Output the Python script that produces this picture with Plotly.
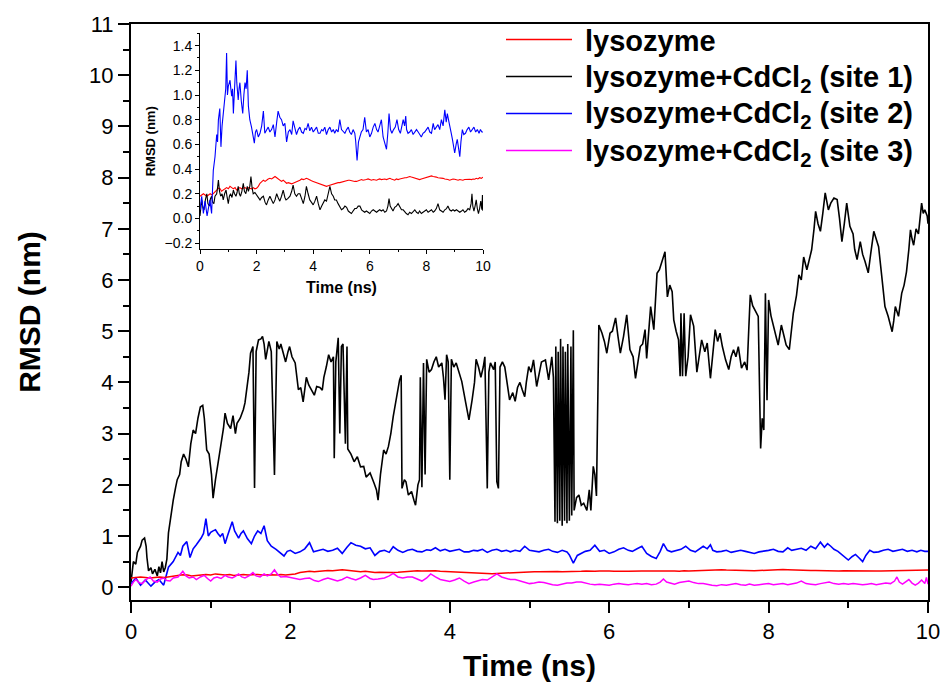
import plotly.graph_objects as go

# ---------------- data ----------------
series_names = ["lysozyme", "lysozyme+CdCl<sub>2</sub> (site 1)",
                "lysozyme+CdCl<sub>2</sub> (site 2)", "lysozyme+CdCl<sub>2</sub> (site 3)"]

lys_pts = [(0,0.18),(0.06,0.19),(0.12,0.2),(0.18,0.19),(0.24,0.18),(0.3,0.19),(0.36,0.2),(0.42,0.19),(0.47,0.2),(0.53,0.22),(0.59,0.23),(0.65,0.245),(0.71,0.24),(0.76,0.22),(0.82,0.23),(0.88,0.24),(0.94,0.25),(1.0,0.24),(1.06,0.26),(1.12,0.25),(1.18,0.24),(1.24,0.25),(1.29,0.23),(1.35,0.24),(1.41,0.25),(1.47,0.24),(1.53,0.245),(1.59,0.25),(1.65,0.24),(1.71,0.25),(1.76,0.245),(1.82,0.24),(1.88,0.25),(1.94,0.24),(2.0,0.245),(2.06,0.26),(2.12,0.285),(2.18,0.3),(2.24,0.31),(2.3,0.3),(2.35,0.31),(2.41,0.32),(2.47,0.325),(2.53,0.32),(2.59,0.33),(2.65,0.34),(2.71,0.33),(2.76,0.32),(2.82,0.31),(2.88,0.3),(2.94,0.31),(3.0,0.295),(3.06,0.285),(3.12,0.29),(3.18,0.285),(3.24,0.28),(3.29,0.285),(3.35,0.29),(3.41,0.3),(3.47,0.305),(3.53,0.31),(3.59,0.32),(3.65,0.315),(3.71,0.32),(3.76,0.325),(3.82,0.32),(3.88,0.31),(3.94,0.305),(4.0,0.3),(4.06,0.295),(4.12,0.29),(4.18,0.285),(4.24,0.285),(4.3,0.28),(4.35,0.27),(4.41,0.265),(4.47,0.26),(4.53,0.265),(4.59,0.27),(4.65,0.275),(4.71,0.28),(4.76,0.28),(4.82,0.285),(4.88,0.29),(4.94,0.29),(5.0,0.295),(5.06,0.3),(5.12,0.3),(5.18,0.305),(5.24,0.31),(5.29,0.31),(5.35,0.305),(5.41,0.3),(5.47,0.3),(5.53,0.3),(5.59,0.305),(5.65,0.31),(5.71,0.315),(5.76,0.31),(5.82,0.31),(5.88,0.315),(5.94,0.32),(6.0,0.318),(6.06,0.31),(6.12,0.315),(6.18,0.31),(6.24,0.31),(6.29,0.315),(6.35,0.32),(6.41,0.315),(6.47,0.318),(6.53,0.32),(6.59,0.315),(6.65,0.32),(6.71,0.325),(6.76,0.32),(6.82,0.315),(6.88,0.31),(6.94,0.32),(7.0,0.315),(7.06,0.32),(7.12,0.325),(7.18,0.325),(7.24,0.33),(7.29,0.33),(7.35,0.335),(7.41,0.34),(7.47,0.335),(7.53,0.33),(7.59,0.325),(7.65,0.325),(7.71,0.32),(7.76,0.315),(7.82,0.32),(7.88,0.325),(7.94,0.33),(8.0,0.335),(8.06,0.34),(8.12,0.34),(8.18,0.345),(8.24,0.34),(8.29,0.335),(8.35,0.335),(8.41,0.33),(8.47,0.33),(8.53,0.325),(8.59,0.325),(8.65,0.32),(8.71,0.32),(8.76,0.315),(8.82,0.31),(8.88,0.315),(8.94,0.32),(9.0,0.318),(9.06,0.315),(9.12,0.31),(9.18,0.315),(9.24,0.31),(9.29,0.31),(9.35,0.315),(9.41,0.318),(9.47,0.32),(9.53,0.318),(9.59,0.315),(9.65,0.32),(9.71,0.318),(9.76,0.325),(9.82,0.32),(9.88,0.33),(9.94,0.325),(10.0,0.335)]

site1_pts = [(0,0.1),(0.03,0.5),(0.06,0.45),(0.08,0.68),(0.12,0.8),(0.14,0.92),(0.17,0.96),(0.19,0.8),(0.2,0.58),(0.22,0.32),(0.25,0.38),(0.27,0.26),(0.3,0.35),(0.33,0.22),(0.35,0.4),(0.37,0.28),(0.39,0.5),(0.41,0.3),(0.43,0.38),(0.45,0.55),(0.47,1.06),(0.5,1.4),(0.53,1.7),(0.56,1.95),(0.58,2.1),(0.61,2.2),(0.63,2.45),(0.66,2.6),(0.69,2.5),(0.72,2.35),(0.75,2.8),(0.78,3.07),(0.81,3.0),(0.84,3.3),(0.87,3.52),(0.9,3.55),(0.92,3.3),(0.95,2.68),(0.98,2.6),(1.01,2.2),(1.03,1.74),(1.06,2.1),(1.1,2.49),(1.13,2.8),(1.16,3.1),(1.18,3.4),(1.21,3.2),(1.25,3.1),(1.28,3.35),(1.31,3.0),(1.33,3.2),(1.37,3.3),(1.41,3.47),(1.43,3.6),(1.45,3.85),(1.48,4.2),(1.5,4.57),(1.53,4.7),(1.55,1.94),(1.57,4.6),(1.6,4.83),(1.63,4.85),(1.65,4.9),(1.67,4.75),(1.69,4.45),(1.71,4.6),(1.73,4.8),(1.76,4.6),(1.8,2.19),(1.83,4.8),(1.86,4.65),(1.88,4.75),(1.91,4.57),(1.94,4.4),(1.97,4.6),(1.99,4.7),(2.02,4.5),(2.06,4.38),(2.1,3.86),(2.13,3.9),(2.16,3.62),(2.2,4.1),(2.23,3.95),(2.26,3.86),(2.3,3.75),(2.33,3.92),(2.37,3.9),(2.4,3.85),(2.42,4.1),(2.45,4.3),(2.48,4.54),(2.51,4.4),(2.54,4.5),(2.55,2.52),(2.57,4.4),(2.6,4.87),(2.62,3.0),(2.64,4.7),(2.66,4.75),(2.69,2.8),(2.71,4.7),(2.72,2.7),(2.76,2.6),(2.8,2.45),(2.84,2.55),(2.88,2.35),(2.92,2.36),(2.95,2.15),(3.0,2.23),(3.05,2.03),(3.08,1.9),(3.1,1.7),(3.13,2.2),(3.17,2.68),(3.2,2.6),(3.23,2.75),(3.26,3.0),(3.29,3.33),(3.32,3.6),(3.35,3.92),(3.37,4.05),(3.39,4.14),(3.4,1.93),(3.43,2.1),(3.45,2.06),(3.48,1.8),(3.52,1.87),(3.55,1.7),(3.57,1.6),(3.6,2.0),(3.62,2.1),(3.63,4.1),(3.65,1.95),(3.67,4.38),(3.69,2.2),(3.71,4.45),(3.74,4.2),(3.77,4.25),(3.8,4.4),(3.83,4.5),(3.86,4.3),(3.9,4.38),(3.92,4.1),(3.94,3.66),(3.96,4.54),(3.98,4.4),(4.0,2.1),(4.02,4.45),(4.05,4.3),(4.08,4.38),(4.12,4.2),(4.15,4.02),(4.2,3.6),(4.24,3.27),(4.28,3.66),(4.31,4.0),(4.33,4.45),(4.36,4.3),(4.39,4.1),(4.42,4.3),(4.44,4.5),(4.47,1.93),(4.49,4.2),(4.51,4.38),(4.55,4.25),(4.57,4.4),(4.59,2.06),(4.61,1.93),(4.63,4.3),(4.66,4.4),(4.69,4.3),(4.72,4.0),(4.75,3.66),(4.79,3.8),(4.82,3.63),(4.85,3.9),(4.88,4.0),(4.91,3.85),(4.94,3.72),(4.96,4.0),(4.99,4.31),(5.02,4.2),(5.05,4.44),(5.09,3.92),(5.12,4.2),(5.15,4.4),(5.2,4.44),(5.24,4.05),(5.28,4.5),(5.3,4.1),(5.32,1.28),(5.33,4.7),(5.35,1.25),(5.36,4.6),(5.38,1.3),(5.39,4.85),(5.41,1.2),(5.42,4.7),(5.44,1.3),(5.45,4.6),(5.47,1.25),(5.48,4.75),(5.5,1.3),(5.52,4.7),(5.53,1.4),(5.55,5.02),(5.56,1.5),(5.59,1.75),(5.62,1.8),(5.65,1.6),(5.68,1.64),(5.72,1.5),(5.75,1.9),(5.77,1.5),(5.8,2.36),(5.82,2.2),(5.84,1.78),(5.87,5.12),(5.91,4.96),(5.94,4.8),(5.97,4.57),(6.01,4.96),(6.04,5.0),(6.08,5.26),(6.11,4.9),(6.14,4.57),(6.18,4.9),(6.22,5.32),(6.26,4.64),(6.3,4.5),(6.33,4.08),(6.36,4.4),(6.39,4.7),(6.42,4.75),(6.45,5.03),(6.47,4.47),(6.5,5.0),(6.52,5.48),(6.56,5.03),(6.58,5.6),(6.6,6.13),(6.63,6.2),(6.66,6.36),(6.7,6.55),(6.73,5.67),(6.76,5.9),(6.79,5.77),(6.81,5.22),(6.84,5.0),(6.87,4.83),(6.89,4.12),(6.9,5.35),(6.92,4.12),(6.94,5.35),(6.96,4.12),(6.99,4.5),(7.02,5.32),(7.06,5.1),(7.1,4.2),(7.13,4.5),(7.16,4.83),(7.2,4.6),(7.23,4.77),(7.27,4.08),(7.3,4.6),(7.33,5.03),(7.36,4.8),(7.39,4.96),(7.42,4.7),(7.46,4.44),(7.5,4.25),(7.53,4.5),(7.56,4.64),(7.59,4.5),(7.62,4.7),(7.66,4.28),(7.7,4.4),(7.73,4.24),(7.75,5.0),(7.77,5.71),(7.8,5.5),(7.83,5.42),(7.87,5.29),(7.9,2.71),(7.92,3.3),(7.94,3.07),(7.96,5.74),(7.98,3.65),(8.0,5.61),(8.03,5.3),(8.06,5.1),(8.09,4.9),(8.12,4.73),(8.16,5.12),(8.19,4.9),(8.22,4.73),(8.26,4.64),(8.29,5.0),(8.31,5.35),(8.35,5.7),(8.38,6.1),(8.41,6.0),(8.44,6.45),(8.48,6.2),(8.51,6.4),(8.54,6.59),(8.57,7.0),(8.59,7.34),(8.62,7.1),(8.65,6.95),(8.68,7.3),(8.71,7.7),(8.75,7.37),(8.78,7.5),(8.82,7.6),(8.86,7.57),(8.89,7.2),(8.92,6.75),(8.95,7.1),(8.98,7.5),(9.02,7.05),(9.06,6.9),(9.08,6.6),(9.11,6.4),(9.15,6.75),(9.18,6.5),(9.21,6.36),(9.25,6.14),(9.28,6.5),(9.32,6.95),(9.35,6.8),(9.38,6.65),(9.42,6.07),(9.46,5.48),(9.5,5.29),(9.53,5.1),(9.55,4.99),(9.57,5.2),(9.59,5.48),(9.63,5.29),(9.67,5.74),(9.7,5.9),(9.73,6.16),(9.76,6.6),(9.78,6.98),(9.8,6.8),(9.82,6.68),(9.85,7.0),(9.88,6.9),(9.9,7.2),(9.92,7.5),(9.94,7.3),(9.96,7.37),(9.99,7.25),(10.0,7.1)]

site2_pts = [(0,0.07),(0.06,0.18),(0.12,0.04),(0.18,0.14),(0.25,0.02),(0.3,0.1),(0.35,0.15),(0.41,0.04),(0.47,0.39),(0.53,0.5),(0.59,0.68),(0.62,0.62),(0.65,0.8),(0.7,0.89),(0.74,0.58),(0.78,0.75),(0.82,0.83),(0.88,0.96),(0.91,1.05),(0.94,1.34),(0.97,1.0),(1.0,1.07),(1.03,1.1),(1.06,1.12),(1.09,1.05),(1.12,0.99),(1.15,1.05),(1.18,0.85),(1.21,1.0),(1.24,1.12),(1.27,1.28),(1.3,1.1),(1.35,0.96),(1.38,1.05),(1.41,1.1),(1.46,0.95),(1.51,0.85),(1.55,1.0),(1.59,1.1),(1.63,1.05),(1.67,1.2),(1.71,0.91),(1.76,0.8),(1.82,0.74),(1.87,0.68),(1.92,0.61),(1.96,0.7),(2.0,0.72),(2.06,0.66),(2.12,0.69),(2.18,0.75),(2.24,0.87),(2.29,0.69),(2.35,0.72),(2.41,0.74),(2.47,0.7),(2.53,0.72),(2.59,0.76),(2.65,0.66),(2.71,0.78),(2.76,0.87),(2.82,0.82),(2.88,0.8),(2.94,0.75),(3.0,0.77),(3.06,0.62),(3.12,0.7),(3.18,0.72),(3.24,0.68),(3.29,0.79),(3.35,0.72),(3.41,0.68),(3.47,0.72),(3.53,0.74),(3.59,0.7),(3.65,0.69),(3.71,0.73),(3.76,0.72),(3.82,0.77),(3.88,0.71),(3.94,0.74),(4.0,0.7),(4.06,0.72),(4.12,0.74),(4.18,0.69),(4.24,0.69),(4.3,0.72),(4.35,0.71),(4.41,0.74),(4.47,0.68),(4.53,0.72),(4.59,0.74),(4.65,0.7),(4.71,0.72),(4.76,0.69),(4.82,0.72),(4.88,0.7),(4.94,0.8),(5.0,0.72),(5.06,0.7),(5.12,0.69),(5.18,0.72),(5.24,0.74),(5.29,0.7),(5.35,0.68),(5.41,0.72),(5.47,0.69),(5.5,0.63),(5.55,0.47),(5.6,0.62),(5.65,0.66),(5.7,0.7),(5.76,0.72),(5.82,0.82),(5.88,0.7),(5.94,0.72),(6.0,0.66),(6.06,0.69),(6.12,0.74),(6.18,0.77),(6.24,0.72),(6.29,0.7),(6.35,0.75),(6.41,0.8),(6.47,0.66),(6.53,0.6),(6.59,0.56),(6.64,0.7),(6.68,0.85),(6.73,0.72),(6.78,0.69),(6.84,0.72),(6.9,0.74),(6.96,0.8),(7.02,0.72),(7.08,0.69),(7.13,0.74),(7.18,0.8),(7.23,0.75),(7.27,0.83),(7.3,0.72),(7.35,0.69),(7.41,0.7),(7.47,0.72),(7.53,0.68),(7.59,0.7),(7.65,0.72),(7.71,0.7),(7.76,0.68),(7.82,0.66),(7.88,0.69),(7.94,0.7),(8.0,0.72),(8.06,0.74),(8.12,0.7),(8.18,0.69),(8.24,0.77),(8.29,0.72),(8.35,0.74),(8.41,0.76),(8.47,0.72),(8.53,0.8),(8.59,0.75),(8.65,0.88),(8.7,0.78),(8.74,0.85),(8.78,0.8),(8.82,0.74),(8.87,0.7),(8.92,0.64),(8.96,0.58),(9.0,0.53),(9.05,0.6),(9.09,0.64),(9.13,0.58),(9.18,0.5),(9.22,0.62),(9.27,0.72),(9.32,0.68),(9.38,0.69),(9.44,0.72),(9.5,0.74),(9.56,0.7),(9.62,0.72),(9.68,0.74),(9.74,0.7),(9.8,0.72),(9.86,0.69),(9.91,0.72),(9.96,0.7),(10.0,0.7)]

site3_pts = [(0,0.02),(0.03,0.1),(0.06,0.15),(0.1,0.09),(0.14,0.07),(0.19,0.15),(0.24,0.2),(0.28,0.12),(0.33,0.1),(0.37,0.16),(0.41,0.18),(0.45,0.13),(0.49,0.12),(0.53,0.18),(0.59,0.2),(0.62,0.25),(0.65,0.31),(0.69,0.22),(0.73,0.18),(0.78,0.2),(0.82,0.15),(0.87,0.2),(0.92,0.23),(0.96,0.17),(1.0,0.12),(1.04,0.18),(1.08,0.2),(1.13,0.17),(1.18,0.23),(1.22,0.2),(1.27,0.18),(1.31,0.21),(1.35,0.26),(1.39,0.2),(1.43,0.18),(1.48,0.22),(1.53,0.285),(1.57,0.22),(1.62,0.2),(1.67,0.26),(1.71,0.22),(1.76,0.26),(1.8,0.34),(1.84,0.25),(1.88,0.2),(1.94,0.21),(2.0,0.19),(2.06,0.18),(2.12,0.15),(2.18,0.17),(2.24,0.18),(2.3,0.13),(2.35,0.11),(2.41,0.15),(2.47,0.18),(2.53,0.15),(2.59,0.12),(2.65,0.15),(2.71,0.2),(2.76,0.17),(2.82,0.14),(2.88,0.18),(2.94,0.23),(3.0,0.17),(3.04,0.15),(3.1,0.16),(3.18,0.18),(3.24,0.22),(3.29,0.27),(3.35,0.2),(3.41,0.18),(3.47,0.2),(3.53,0.2),(3.59,0.16),(3.65,0.12),(3.71,0.18),(3.76,0.26),(3.82,0.2),(3.88,0.15),(3.94,0.13),(4.0,0.11),(4.06,0.14),(4.12,0.18),(4.18,0.12),(4.24,0.07),(4.3,0.1),(4.35,0.12),(4.41,0.15),(4.47,0.14),(4.53,0.2),(4.59,0.26),(4.65,0.2),(4.71,0.18),(4.76,0.15),(4.82,0.15),(4.88,0.12),(4.94,0.09),(5.0,0.07),(5.06,0.08),(5.12,0.1),(5.18,0.09),(5.24,0.06),(5.29,0.05),(5.35,0.04),(5.41,0.06),(5.47,0.08),(5.53,0.08),(5.59,0.1),(5.65,0.1),(5.71,0.07),(5.76,0.06),(5.82,0.05),(5.88,0.06),(5.94,0.05),(6.0,0.04),(6.06,0.06),(6.12,0.07),(6.18,0.06),(6.24,0.05),(6.29,0.06),(6.35,0.07),(6.41,0.06),(6.47,0.07),(6.53,0.05),(6.59,0.06),(6.64,0.1),(6.68,0.16),(6.72,0.1),(6.76,0.08),(6.82,0.06),(6.88,0.09),(6.94,0.1),(7.0,0.12),(7.06,0.09),(7.12,0.07),(7.18,0.07),(7.24,0.05),(7.29,0.04),(7.35,0.03),(7.41,0.05),(7.47,0.04),(7.53,0.06),(7.59,0.07),(7.65,0.05),(7.71,0.04),(7.76,0.06),(7.82,0.04),(7.88,0.05),(7.94,0.06),(8.0,0.07),(8.06,0.05),(8.12,0.06),(8.18,0.07),(8.24,0.05),(8.29,0.06),(8.35,0.08),(8.41,0.12),(8.47,0.07),(8.53,0.06),(8.59,0.05),(8.65,0.07),(8.71,0.08),(8.76,0.1),(8.82,0.07),(8.88,0.06),(8.94,0.07),(9.0,0.06),(9.06,0.07),(9.12,0.06),(9.18,0.05),(9.24,0.06),(9.29,0.07),(9.35,0.05),(9.41,0.06),(9.47,0.08),(9.53,0.07),(9.58,0.12),(9.61,0.2),(9.64,0.1),(9.68,0.06),(9.72,0.1),(9.76,0.15),(9.8,0.08),(9.84,0.04),(9.88,0.08),(9.92,0.14),(9.96,0.07),(9.98,0.19),(10.0,0.06)]

main_colors = ["#ff0000", "#000000", "#0000ff", "#ff00ff"]
main_widths = [1.5, 1.6, 1.6, 1.5]

# inset: lysozyme (red), site 3 (drawn black), site 2 (blue)
inset_series = [(lys_pts, "#ff0000"), (site3_pts, "#000000"), (site2_pts, "#0000ff")]

FONT = "'Liberation Sans', Arial, sans-serif"

fig = go.Figure()

all_main = [lys_pts, site1_pts, site2_pts, site3_pts]
draw_order = [1, 2, 0, 3]
for i in draw_order:
    pts = all_main[i]
    fig.add_trace(go.Scatter(
        x=[p[0] for p in pts], y=[p[1] for p in pts], mode="lines",
        name=series_names[i], line=dict(color=main_colors[i], width=main_widths[i]),
        showlegend=False, xaxis="x", yaxis="y"))

for pts, col in inset_series:
    fig.add_trace(go.Scatter(
        x=[p[0] for p in pts], y=[p[1] for p in pts], mode="lines",
        line=dict(color=col, width=1.1), showlegend=False, xaxis="x2", yaxis="y2"))

# plot-area geometry in pixels
W, H = 944, 695
L, R, T, B = 131, 928, 24, 600
pw, ph = R - L, B - T

def px2paper_x(px):
    return (px - L) / pw

def px2paper_y(py):
    return (B - py) / ph

# manual legend
leg_rows = [39.5, 76.5, 113.5, 150.5]
shapes = []
annotations = []
for i, yy in enumerate(leg_rows):
    shapes.append(dict(type="line", xref="paper", yref="paper",
                       x0=px2paper_x(506), x1=px2paper_x(572),
                       y0=px2paper_y(yy), y1=px2paper_y(yy),
                       line=dict(color=main_colors[i], width=1.5)))
    annotations.append(dict(xref="paper", yref="paper", x=px2paper_x(583), y=px2paper_y(yy + 2),
                            xanchor="left", yanchor="middle", showarrow=False,
                            text="<b>" + series_names[i] + "</b>",
                            font=dict(family=FONT, size=29, color="black")))

fig.update_layout(
    width=W, height=H,
    margin=dict(l=L, r=W - R, t=T, b=H - B, pad=0),
    paper_bgcolor="white", plot_bgcolor="white",
    font=dict(family=FONT, color="black"),
    shapes=shapes, annotations=annotations,
    xaxis=dict(range=[0, 10], domain=[0, 1], anchor="y",
               showline=True, linewidth=2, linecolor="black", mirror=True,
               ticks="outside", ticklen=11, tickwidth=2, tickcolor="black",
               tick0=0, dtick=2, tickfont=dict(size=22, family=FONT),
               minor=dict(ticks="outside", ticklen=6, tickwidth=2, dtick=1, tick0=0, tickcolor="black"),
               showgrid=False, zeroline=False, automargin=False,
               title=dict(text="<b>Time (ns)</b>", font=dict(size=30, family=FONT), standoff=12)),
    yaxis=dict(range=[-0.25, 11], domain=[0, 1], anchor="x",
               showline=True, linewidth=2, linecolor="black", mirror=True,
               ticks="outside", ticklen=11, tickwidth=2, tickcolor="black",
               tick0=0, dtick=1, tickfont=dict(size=22, family=FONT),
               minor=dict(ticks="outside", ticklen=6, tickwidth=2, dtick=0.5, tick0=0, tickcolor="black"),
               showgrid=False, zeroline=False, automargin=False,
               title=dict(text="<b>RMSD (nm)</b>", font=dict(size=30, family=FONT), standoff=40)),
    xaxis2=dict(range=[0, 10], domain=[px2paper_x(200), px2paper_x(483)], anchor="y2",
                showline=True, linewidth=1, linecolor="black", mirror=False,
                ticks="outside", ticklen=4, tickwidth=1, tickcolor="black",
                tick0=0, dtick=2, tickfont=dict(size=14, family=FONT),
                minor=dict(ticks="outside", ticklen=2, tickwidth=1, dtick=1, tick0=0, tickcolor="black"),
                showgrid=False, zeroline=False, automargin=False,
                title=dict(text="<b>Time (ns)</b>", font=dict(size=16, family=FONT), standoff=8)),
    yaxis2=dict(range=[-0.25, 1.5], domain=[px2paper_y(249.3), px2paper_y(33.3)], anchor="x2",
                showline=True, linewidth=1, linecolor="black", mirror=False,
                ticks="outside", ticklen=4, tickwidth=1, tickcolor="black",
                tick0=0, dtick=0.2, tickformat=".1f", tickfont=dict(size=14, family=FONT),
                minor=dict(ticks="outside", ticklen=2, tickwidth=1, dtick=0.1, tick0=0, tickcolor="black"),
                showgrid=False, zeroline=False, automargin=False,
                title=dict(text="<b>RMSD (nm)</b>", font=dict(size=13, family=FONT), standoff=6)),
)

fig.write_html("out.html")
